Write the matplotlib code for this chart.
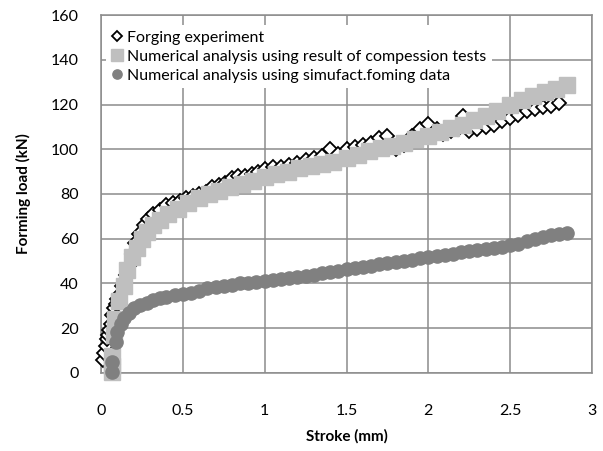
import matplotlib
matplotlib.use("Agg")
import matplotlib.pyplot as plt

plt.rcParams['font.family'] = ['Lato', 'DejaVu Sans']

# Forging experiment (stroke mm, load kN)
exp_x = [0.01, 0.02, 0.03, 0.035, 0.04, 0.05, 0.06, 0.07, 0.08, 0.09, 0.10, 0.11,
         0.13, 0.15, 0.17, 0.19, 0.21, 0.23, 0.26, 0.29, 0.32, 0.36, 0.40, 0.44,
         0.48, 0.52, 0.56, 0.60, 0.64, 0.68, 0.72, 0.76, 0.80, 0.84, 0.88, 0.92,
         0.96, 1.00, 1.05, 1.10, 1.15, 1.20, 1.25, 1.30, 1.35, 1.40, 1.45, 1.50,
         1.55, 1.60, 1.65, 1.70, 1.75, 1.80, 1.85, 1.90, 1.95, 2.00, 2.05, 2.09,
         2.14, 2.18, 2.21, 2.25, 2.30, 2.35, 2.40, 2.45, 2.50, 2.55, 2.60, 2.65,
         2.70, 2.75, 2.80]
exp_y = [6, 9, 12, 15, 17, 19, 22, 26, 29, 31, 33, 35,
         39, 44, 48, 53, 58, 62, 66, 69, 71, 73, 75, 76,
         77, 78, 79, 80, 81, 83, 84, 85, 87, 88, 88, 89,
         90, 91, 92, 92, 93, 94, 95, 96, 97, 100, 98, 100,
         101, 102, 103, 105, 106, 100, 102, 106, 109, 111.5, 109, 107,
         108, 109, 115, 108, 109, 110, 111, 112.5, 114, 115.5, 117, 118,
         119, 119.5, 120.5]

# Numerical analysis using result of compression tests
comp_x = [0.07, 0.07, 0.07, 0.08, 0.085, 0.11, 0.14, 0.16, 0.19, 0.22, 0.25, 0.28,
          0.32, 0.36, 0.41, 0.47, 0.53, 0.60, 0.66, 0.72, 0.79, 0.86, 0.93, 1.00,
          1.07, 1.14, 1.21, 1.28, 1.35, 1.42, 1.50, 1.57, 1.64, 1.71, 1.78, 1.85,
          1.92, 2.00, 2.07, 2.14, 2.21, 2.28, 2.35, 2.42, 2.50, 2.57, 2.64, 2.71,
          2.78, 2.85]
comp_y = [0.5, 3, 7.5, 17, 24, 32, 39, 46, 52, 56, 60, 63,
          66, 68.5, 71, 73.5, 76, 78, 80, 81.5, 83, 84.5, 86, 87.5,
          89, 90, 91.5, 92.5, 93.5, 94.5, 96, 97.5, 99, 100.5, 101.5, 103,
          104.5, 106, 107.5, 109.5, 111, 113, 115, 117, 120, 122, 124, 125.5,
          127, 128.5]

# Numerical analysis using simufact.forming data
sim_x = [0.07, 0.07, 0.09, 0.10, 0.12, 0.14, 0.17, 0.20, 0.24, 0.28, 0.32, 0.36,
         0.40, 0.45, 0.50, 0.55, 0.60, 0.65, 0.70, 0.75, 0.80, 0.85, 0.90, 0.95,
         1.00, 1.05, 1.10, 1.15, 1.20, 1.25, 1.30, 1.35, 1.40, 1.45, 1.50, 1.55,
         1.60, 1.65, 1.70, 1.75, 1.80, 1.85, 1.90, 1.95, 2.00, 2.05, 2.10, 2.15,
         2.20, 2.25, 2.30, 2.35, 2.40, 2.45, 2.50, 2.55, 2.60, 2.65, 2.70, 2.75,
         2.80, 2.85]
sim_y = [0.5, 5, 14, 18.5, 22, 24.5, 27, 29, 30.5, 31.5, 32.5, 33.5,
         34, 34.8, 35.3, 35.8, 36.5, 37.8, 38.5, 39, 39.5, 40, 40.3, 40.7,
         41, 41.5, 42, 42.5, 43, 43.5, 44, 44.6, 45.2, 45.8, 46.3, 46.8,
         47.4, 48, 48.5, 49, 49.5, 50, 50.6, 51.2, 52, 52.4, 52.9, 53.4,
         54, 54.5, 55, 55.5, 56, 56.5, 57.2, 57.8, 58.8, 60, 61, 61.8,
         62.3, 62.7]

fig = plt.figure(figsize=(6.03, 4.51), dpi=100)
ax = fig.add_axes([0.1675, 0.173, 0.8143, 0.7937])

ax.plot(exp_x, exp_y, linestyle='none', marker='D', markersize=7.5,
        markerfacecolor='white', markeredgecolor='black', markeredgewidth=1.3,
        label='Forging experiment', zorder=3, clip_on=False)
ax.plot(comp_x, comp_y, linestyle='none', marker='s', markersize=12,
        color='#bfbfbf', label='Numerical analysis using result of compession tests',
        zorder=4, clip_on=False)
ax.plot(sim_x, sim_y, linestyle='none', marker='o', markersize=9.5,
        color='#808080', label='Numerical analysis using simufact.foming data',
        zorder=5, clip_on=False)

ax.set_xlim(0, 3)
ax.set_ylim(0, 160)
ax.set_xticks([0, 0.5, 1, 1.5, 2, 2.5, 3])
ax.set_xticklabels(['0', '0.5', '1', '1.5', '2', '2.5', '3'])
ax.set_yticks(range(0, 161, 20))

ax.grid(True, color='#8c8c8c', linewidth=1.1)
ax.set_axisbelow(True)
for s in ax.spines.values():
    s.set_color('#8c8c8c')
    s.set_linewidth(1.1)
ax.tick_params(length=0, labelsize=11.5, colors='black')
ax.tick_params(axis='x', pad=22)
ax.tick_params(axis='y', pad=16)

ax.set_xlabel('Stroke (mm)', fontsize=11, fontweight='bold', labelpad=8)
ax.set_ylabel('Forming load (kN)', fontsize=11, fontweight='bold', labelpad=14)

leg = ax.legend(loc='upper left', bbox_to_anchor=(0.0, 0.985), fontsize=11.5,
                frameon=True, framealpha=1, facecolor='white', edgecolor='none',
                markerscale=0.7, handlelength=0.7, handletextpad=0.3,
                borderaxespad=0.3, labelspacing=0.3, borderpad=0.35,
                fancybox=False)
leg.set_zorder(10)

fig.savefig('out.png', dpi=100)
